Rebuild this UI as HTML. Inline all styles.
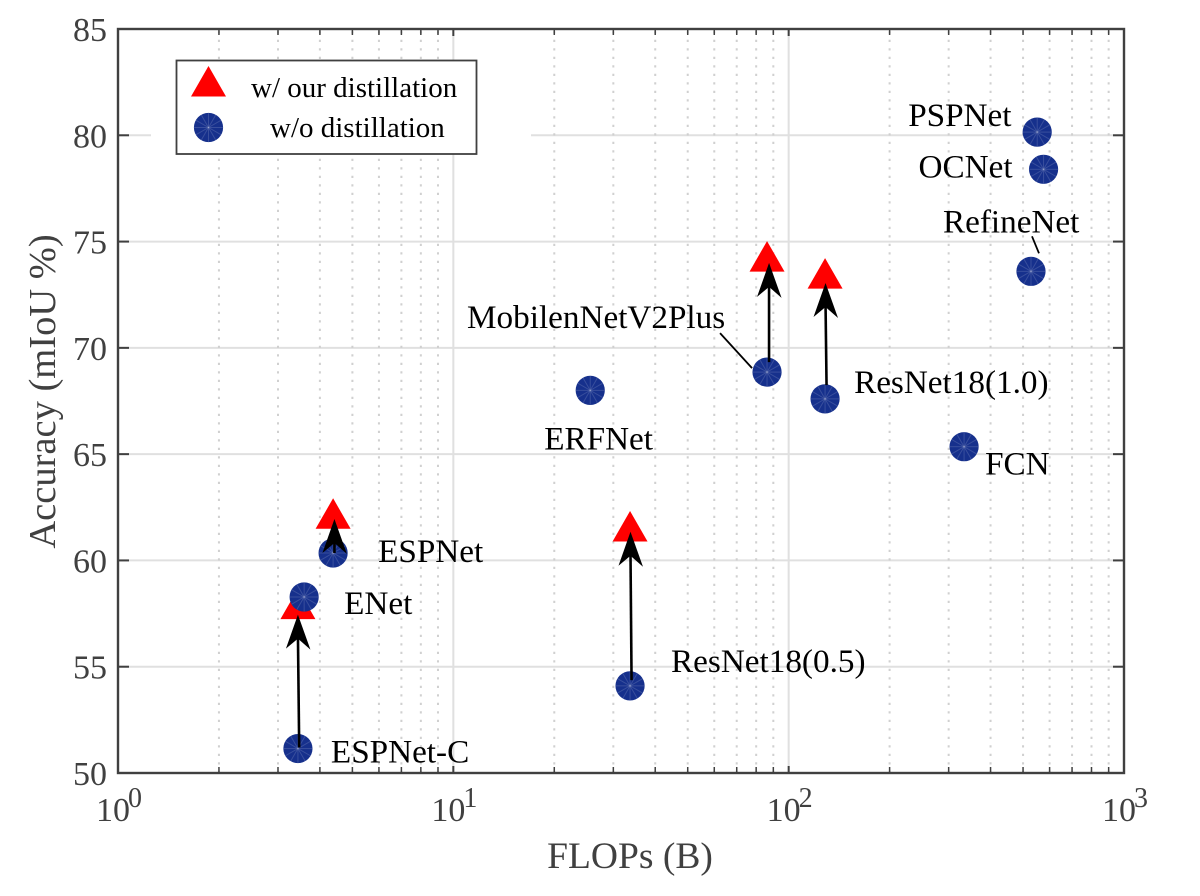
<!DOCTYPE html>
<html>
<head>
<meta charset="utf-8">
<title>Accuracy vs FLOPs</title>
<style>
html,body{margin:0;padding:0;background:#fff;}
svg{display:block;font-family:"Liberation Serif",serif;}
</style>
</head>
<body>
<svg id="chart" xmlns="http://www.w3.org/2000/svg" width="1200" height="896" viewBox="0 0 1200 896"></svg>
<script>
const modelNames = ['PSPNet','OCNet','RefineNet','MobilenNetV2Plus','ResNet18(1.0)','FCN','ERFNet','ResNet18(0.5)','ESPNet','ENet','ESPNet-C'];
const baseFlops = [551,575.6,528,86.2,128.4,333.5,25.6,33.65,4.38,3.59,3.44];
const baseAccuracy = [80.15,78.4,73.6,68.86,67.6,65.35,68.0,54.1,60.35,58.28,51.15];
const distilledFlops = [86.2,128.4,33.65,4.38,3.44];
const distilledAccuracy = [74.2,73.4,61.5,62.1,57.85];
const arrowStartFlops = [87.4,129.7,34.0,4.42,3.47];
const arrowStartAccuracy = [69.33,68.25,54.37,60.35,51.2];
const arrowEndFlops = [87.4,128.8,33.75,4.42,3.44];
const arrowEndAccuracy = [74.0,73.05,61.35,61.95,57.45];
const yTickValues = [50,55,60,65,70,75,80,85];
const yTickLabels = ['50','55','60','65','70','75','80','85'];
const xDecades = [1,10,100,1000];
const xTickExponents = ['0','1','2','3'];
const xMinorMultipliers = [2,3,4,5,6,7,8,9];

const NS = 'http://www.w3.org/2000/svg';
const svg = document.getElementById('chart');
const plot = {left:118, right:1124, top:29, bottom:773};
const xMinLog = 0, xMaxLog = 3, yMin = 50, yMax = 85;
function xScale(v){ return plot.left + (Math.log10(v) - xMinLog) / (xMaxLog - xMinLog) * (plot.right - plot.left); }
function yScale(v){ return plot.bottom - (v - yMin) / (yMax - yMin) * (plot.bottom - plot.top); }
function make(tag, attrs, parent){
  const e = document.createElementNS(NS, tag);
  for (const k in attrs) e.setAttribute(k, attrs[k]);
  (parent || svg).appendChild(e);
  return e;
}
const AXIS = '#404040';

/* major horizontal grid */
yTickValues.forEach(function(v){
  const l = make('line',{x1:plot.left,x2:plot.right,y1:yScale(v),y2:yScale(v),stroke:'#e0e0e0','stroke-width':2});
  
  
});
/* gap in the 80 gridline behind the legend */
const gap = make('rect',{x:151,y:yScale(80)-3,width:380,height:6,fill:'#fff'});



/* x grid */
xDecades.forEach(function(d, i){
  if (i > 0 && i < xDecades.length - 1) {
    const g = make('line',{x1:xScale(d),x2:xScale(d),y1:plot.top,y2:plot.bottom,stroke:'#e0e0e0','stroke-width':2});
    
    
  }
  if (i < xDecades.length - 1) {
    xMinorMultipliers.forEach(function(m){
      const x = xScale(d * m);
      const mg = make('line',{x1:x,x2:x,y1:plot.bottom,y2:plot.top,stroke:'#d0d0d0','stroke-width':2,'stroke-dasharray':'2.2 6.3'});
      
      
      [[plot.bottom,plot.bottom-6],[plot.top,plot.top+6]].forEach(function(p){
        const t = make('line',{x1:x,x2:x,y1:p[0],y2:p[1],stroke:AXIS,'stroke-width':1.5});
        
        
      });
    });
  }
});

/* frame */
const frame = make('rect',{x:plot.left,y:plot.top,width:plot.right-plot.left,height:plot.bottom-plot.top,fill:'none',stroke:AXIS,'stroke-width':2.4});



/* y ticks */
yTickValues.forEach(function(v, i){
  const y = yScale(v);
  const a = make('line',{x1:plot.left,x2:plot.left+11,y1:y,y2:y,stroke:AXIS,'stroke-width':2});
  
  
  const b = make('line',{x1:plot.right,x2:plot.right-11,y1:y,y2:y,stroke:AXIS,'stroke-width':2});
  
  
  const t = make('text',{x:107,y:y+12,'text-anchor':'end','font-size':34,fill:AXIS});
  t.textContent = yTickLabels[i];
  
  
});

/* x ticks */
xDecades.forEach(function(d, i){
  const x = xScale(d);
  [[plot.bottom,plot.bottom-7],[plot.top,plot.top+7]].forEach(function(p){
    const t = make('line',{x1:x,x2:x,y1:p[0],y2:p[1],stroke:AXIS,'stroke-width':2});
    
    
  });
  const lab = make('text',{x:x-22,y:821,'font-size':34,fill:AXIS});
  lab.textContent = '10';
  
  
  const ex = make('text',{x:x+10,y:807,'font-size':28,fill:AXIS});
  ex.textContent = xTickExponents[i];
  
  
});

/* axis titles */
const xTitle = make('text',{x:630,y:868,'text-anchor':'middle','font-size':37.5,fill:AXIS});
xTitle.textContent = 'FLOPs (B)';


const yTitle = make('text',{x:0,y:0,'text-anchor':'middle','font-size':38.5,fill:AXIS,transform:'translate(55,391.5) rotate(-90)'});
yTitle.textContent = 'Accuracy (mIoU %)';



/* markers */
function triangle(cx, cy, parent){
  return make('polygon',{points:(cx)+','+(cy-17.5)+' '+(cx+17.5)+','+(cy+13)+' '+(cx-17.5)+','+(cy+13),fill:'#ff0000'},parent);
}
function circle(cx, cy){
  const g = make('g',{});
  make('circle',{cx:cx,cy:cy,r:14.6,fill:'#16308c'},g);
  for (let a = 0; a < 12; a++) {
    const r = a * Math.PI / 6;
    make('line',{x1:cx,y1:cy,x2:cx+14.4*Math.cos(r),y2:cy+14.4*Math.sin(r),stroke:'rgba(255,255,255,0.15)','stroke-width':1},g);
  }
  return g;
}

/* legend */
const legend = make('g',{});


make('rect',{x:176.5,y:60.5,width:300,height:93.5,fill:'#fff',stroke:AXIS,'stroke-width':1.8},legend);
const legendTri = triangle(208.5, 83.5, legend);


const legendText1 = make('text',{x:251,y:97,'font-size':29,fill:'#000'},legend);
legendText1.textContent = 'w/ our distillation';


const legendCircle = circle(208.5, 127.5);
legend.appendChild(legendCircle);


const legendText2 = make('text',{x:270,y:137,'font-size':29,fill:'#000'},legend);
legendText2.textContent = 'w/o distillation';



/* series */
distilledFlops.forEach(function(v, i){
  const t = triangle(xScale(v), yScale(distilledAccuracy[i]));
  
  
});
baseFlops.forEach(function(v, i){
  const c = circle(xScale(v), yScale(baseAccuracy[i]));
  
  
});

/* arrows */
arrowStartFlops.forEach(function(v, i){
  const x1 = xScale(v), y1 = yScale(arrowStartAccuracy[i]);
  const x2 = xScale(arrowEndFlops[i]), y2 = yScale(arrowEndAccuracy[i]);
  const g = make('g',{});
  
  
  make('line',{x1:x1,y1:y1,x2:x2,y2:y2+20,stroke:'#000','stroke-width':2.6},g);
  make('polygon',{points:x2+','+y2+' '+(x2+12.5)+','+(y2+35)+' '+x2+','+(y2+24)+' '+(x2-12)+','+(y2+34),fill:'#000'},g);
});

/* labels placed relative to their points */
function addLabel(i, dx, dy){
  const t = make('text',{x:xScale(baseFlops[i])+dx,y:yScale(baseAccuracy[i])+dy,'font-size':33.2,fill:'#000'});
  t.textContent = modelNames[i];
  
  
}
addLabel(0,-129,-6);
addLabel(1,-125,8);
addLabel(2,-88,-39);
addLabel(3,-300,-44);
addLabel(4,29,-6);
addLabel(5,21,28);
addLabel(6,-46,59);
addLabel(7,41,-14);
addLabel(8,45,9);
addLabel(9,40,17);
addLabel(10,33,14);

/* leader lines */
function leader(i, dx1, dy1, dx2, dy2){
  const x = xScale(baseFlops[i]), y = yScale(baseAccuracy[i]);
  const l = make('line',{x1:x+dx1,y1:y+dy1,x2:x+dx2,y2:y+dy2,stroke:'#000','stroke-width':1.8});
  
  
}
leader(3,-47,-39,-15,-4);
leader(2,1,-35,8,-18);
</script>
</body>
</html>
